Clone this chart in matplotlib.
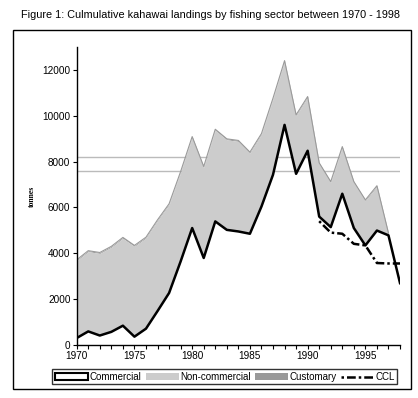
import matplotlib
matplotlib.use("Agg")
import matplotlib.pyplot as plt
import numpy as np
from matplotlib.lines import Line2D
from matplotlib.patches import Patch, Rectangle
from matplotlib.ticker import MultipleLocator

# ── Data (tonnes) ───────────────────────────────────────────────────────────
years = list(range(1970, 1999))
commercial = [290, 580, 400, 560, 830, 350, 700, 1470, 2260, 3640,
              5100, 3790, 5390, 5020, 4950, 4850, 6040, 7430, 9610, 7470,
              8480, 5600, 5140, 6600, 5100, 4340, 4990, 4780, 2690]
# non-commercial catch, 1970-1997
non_commercial = [3380, 3490, 3590, 3700, 3820, 3950, 3960, 3950, 3860, 3890,
                  3960, 3960, 3990, 3940, 3940, 3530, 3150, 3310, 2770, 2540,
                  2330, 2310, 1950, 2020, 1990, 1950, 1920, 60]
customary = [40, 40, 40, 40, 40, 40, 40, 40, 40, 40,
             40, 40, 40, 40, 40, 40, 40, 40, 40, 40,
             40, 40, 40, 40, 40, 40, 40, 40]
ccl_years = [1991, 1992, 1993, 1994, 1995, 1996, 1997, 1998]
ccl = [5400, 4900, 4850, 4410, 4340, 3570, 3550, 3550]
ref_levels = [8200, 7600]

title = "Figure 1: Culmulative kahawai landings by fishing sector between 1970 - 1998"

GREY_LIGHT = "#cccccc"
GREY_DARK = "#999999"
SANS = ["Liberation Sans", "DejaVu Sans"]

fig = plt.figure(figsize=(4.18, 3.98), dpi=100)
ax = fig.add_axes([0.1835, 0.134, 0.7735, 0.747])

n = len(non_commercial)
yrs = np.array(years[:n])
com = np.array(commercial[:n])
nonc_top = com + np.array(non_commercial)
total = nonc_top + np.array(customary)

for lvl in ref_levels:
    ax.axhline(lvl, color="#bbbbbb", lw=1, zorder=1)

ax.fill_between(yrs, nonc_top, total, color=GREY_DARK, lw=0, zorder=2)
ax.fill_between(yrs, com, nonc_top, color=GREY_LIGHT, lw=0, zorder=2)
ax.plot(yrs, total, color=GREY_DARK, lw=0.8, zorder=2)
ax.plot(years, commercial, color="black", lw=1.8, zorder=3)
ax.plot(ccl_years, ccl, color="black", lw=1.8, ls=(0, (1, 1.2, 3.5, 1.2)), zorder=4)

ax.set_xlim(1970, 1998)
ax.set_ylim(0, 13000)
ax.xaxis.set_major_locator(MultipleLocator(5))
ax.xaxis.set_minor_locator(MultipleLocator(1))
ax.yaxis.set_major_locator(MultipleLocator(2000))
ax.tick_params(axis="both", which="both", direction="out", length=3, width=0.8,
               labelsize=7.2, pad=1.5)
for lab in ax.get_xticklabels() + ax.get_yticklabels():
    lab.set_family(SANS)
for side in ("top", "right"):
    ax.spines[side].set_visible(False)
for side in ("left", "bottom"):
    ax.spines[side].set_linewidth(1)

ax.set_ylabel("tonnes", fontsize=5.5, fontweight="bold",
               family=["Liberation Serif", "DejaVu Serif"], labelpad=5)

fig.text(0.504, 0.962, title, ha="center", va="center", fontsize=7.8, family=SANS)

# outer border around the chart
fig.add_artist(Rectangle((0.030, 0.0226), 0.953, 0.9024, transform=fig.transFigure,
                         fill=False, edgecolor="black", lw=1))

handles = [
    Patch(facecolor="white", edgecolor="black", lw=1.5, label="Commercial"),
    Patch(facecolor=GREY_LIGHT, edgecolor="none", label="Non-commercial"),
    Patch(facecolor=GREY_DARK, edgecolor="none", label="Customary"),
    Line2D([], [], color="black", lw=1.8, ls=(0, (1, 1.2, 3.5, 1.2)), label="CCL"),
]
leg = fig.legend(handles=handles, loc="center", bbox_to_anchor=(0.538, 0.053), ncol=4,
                 frameon=True, fancybox=False, handlelength=3.4,
                 handleheight=0.7, handletextpad=0.15, columnspacing=0.45,
                 borderpad=0.25, borderaxespad=0,
                 prop={"family": SANS, "size": 7.0})
leg.get_frame().set_edgecolor("black")
leg.get_frame().set_linewidth(1)

plt.savefig("out.png", dpi=100)
plt.close()
